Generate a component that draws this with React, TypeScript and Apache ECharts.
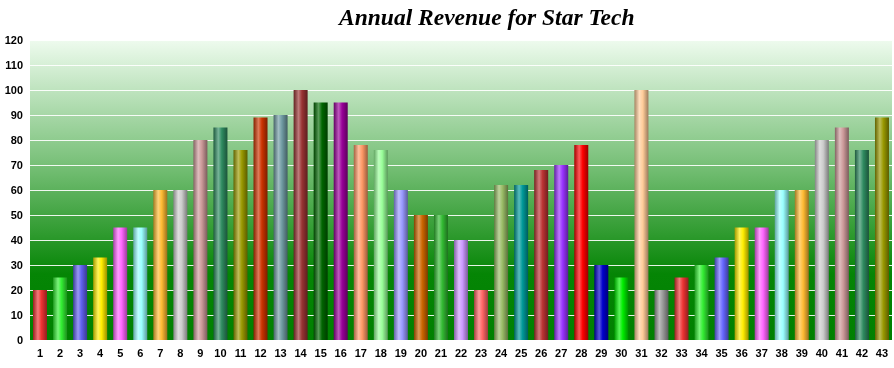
import React, { useEffect, useRef } from "react";
import * as echarts from "echarts";

const categories: string[] = Array.from({ length: 43 }, (_, i) => String(i + 1));
const revenue: number[] = [
  20, 25, 30, 33, 45, 45, 60, 60, 80, 85, 76, 89, 90, 100, 95, 95, 78, 76, 60, 50, 50, 40,
  20, 62, 62, 68, 70, 78, 30, 25, 100, 20, 25, 30, 33, 45, 45, 60, 60, 80, 85, 76, 89,
];
const barColors: string[] = [
  "#ee3333", "#33ee33", "#6060ee", "#ffee00", "#ff66ff", "#99ffff", "#ffbb33", "#cccccc",
  "#cc9999", "#2e8b60", "#999900", "#cc3300", "#6f9aa2", "#993333", "#006600", "#990099",
  "#ff9966", "#99ff99", "#9999ff", "#cc6600", "#33bb33", "#cc99ff", "#ff6666", "#99bb66",
  "#009999", "#bb3333", "#9933ff", "#ff0000", "#0000cc", "#00ee00", "#ffcc99", "#999999",
  "#ee3333", "#33ee33", "#6666ff", "#ffee00", "#ff66ff", "#99ffff", "#ffbb33", "#cccccc",
  "#cc9999", "#2e8b60", "#999900",
];

function mix(hex: string, target: number, t: number): string {
  const n = parseInt(hex.slice(1), 16);
  const r = (n >> 16) & 255, g = (n >> 8) & 255, b = n & 255;
  const f = (c: number) => Math.round(c + (target - c) * t);
  return `rgb(${f(r)},${f(g)},${f(b)})`;
}

export default function App() {
  const ref = useRef<HTMLDivElement>(null);
  useEffect(() => {
    if (!ref.current) return;
    const chart = echarts.init(ref.current, undefined, { renderer: "svg" });
    chart.setOption({
      animation: false,
      title: {
        text: "Annual Revenue for Star Tech",
        left: 334,
        top: 0,
        textStyle: {
          fontFamily: "Liberation Serif",
          fontStyle: "italic",
          fontWeight: "bold",
          fontSize: 23.5,
          color: "#000",
        },
      },
      grid: {
        left: 30,
        right: 2,
        top: 40,
        bottom: 28,
        show: true,
        borderWidth: 0,
        backgroundColor: new echarts.graphic.LinearGradient(0, 0, 0, 1, [
          { offset: 0, color: "#eefbee" },
          { offset: 0.4, color: "#7cc27c" },
          { offset: 0.78, color: "#058505" },
          { offset: 1, color: "#008000" },
        ]),
      },
      xAxis: {
        type: "category",
        data: categories,
        axisLine: { show: false },
        axisTick: { show: false },
        axisLabel: {
          interval: 0,
          margin: 7,
          fontFamily: "Liberation Sans",
          fontWeight: "bold",
          fontSize: 11,
          color: "#000",
        },
      },
      yAxis: {
        type: "value",
        min: 0,
        max: 120,
        interval: 10,
        axisLine: { show: false },
        axisTick: { show: false },
        axisLabel: {
          margin: 7,
          fontFamily: "Liberation Sans",
          fontWeight: "bold",
          fontSize: 11,
          color: "#000",
        },
        splitLine: { lineStyle: { color: "rgba(255,255,255,0.9)", width: 1.2 } },
      },
      series: [
        {
          type: "bar",
          barWidth: 14,
          data: revenue.map((v, i) => {
            const c = barColors[i];
            return {
              value: v,
              itemStyle: {
                color: new echarts.graphic.LinearGradient(0, 0, 1, 0, [
                  { offset: 0, color: mix(c, 0, 0.35) },
                  { offset: 0.35, color: mix(c, 255, 0.35) },
                  { offset: 0.6, color: c },
                  { offset: 1, color: mix(c, 0, 0.4) },
                ]),
              },
            };
          }),
        },
      ],
    });
    return () => chart.dispose();
  }, []);
  return (
    <div
      ref={ref}
      style={{ position: "fixed", left: 0, top: 0, width: 894, height: 368 }}
    />
  );
}
